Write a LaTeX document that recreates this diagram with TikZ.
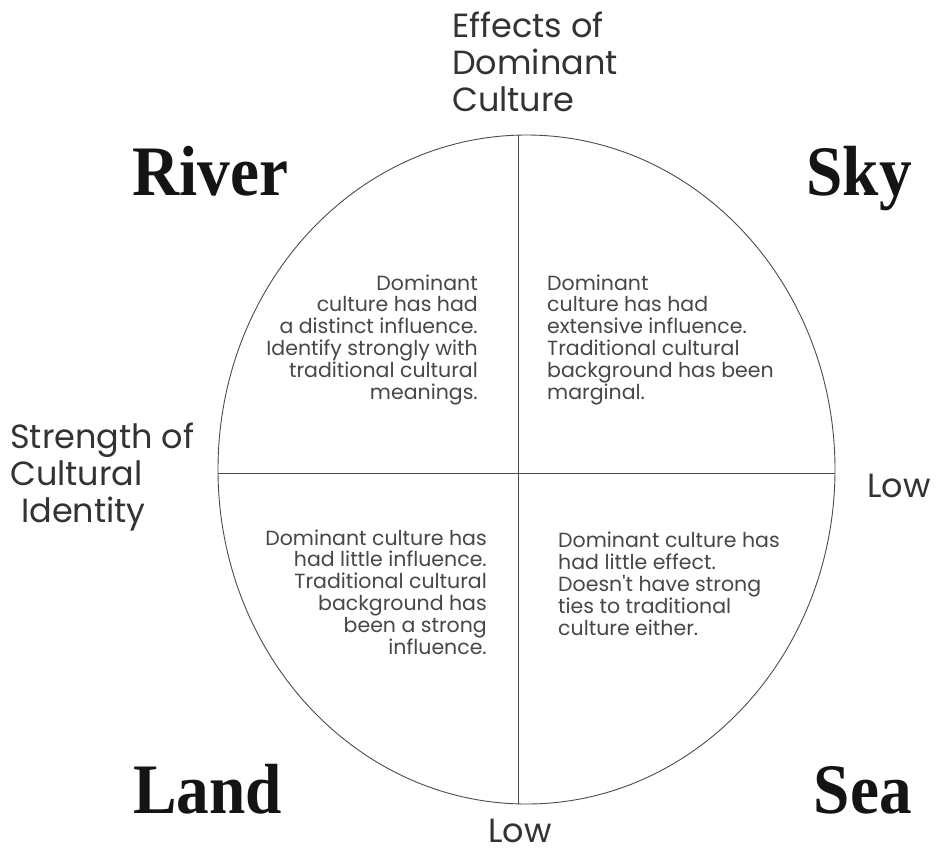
\documentclass[tikz,border=0pt]{standalone}
\usepackage{fontspec}
\newfontfamily\labelfont{Poppins}
\newfontfamily\headfont{Liberation Serif}
\begin{document}
\begin{tikzpicture}[x=1pt,y=-1pt,
  axislabel/.style={font=\labelfont\fontsize{33.5}{37}\selectfont, inner sep=0pt, text=black!80},
  quadtext/.style={font=\labelfont\fontsize{20.5}{21.8}\selectfont, inner sep=0pt, text=black!72},
  headword/.style={font=\headfont\bfseries\fontsize{71}{71}\selectfont, inner sep=0pt, text=black!92},
  frame/.style={draw=black!70, line width=0.9pt}]
\useasboundingbox (0,0) rectangle (937,852);
\fill[white] (0,0) rectangle (937,852);

% the circle split into four quadrants
\coordinate (c) at (526.5,469.5);
\draw[frame] (c) ellipse [x radius=308.5, y radius=334.5];
\coordinate (top) at (518,135.1);
\coordinate (bot) at (518,803.9);
\coordinate (lft) at (218.1,473);
\coordinate (rgt) at (834.9,473);
\draw[frame] (top) -- (bot);
\draw[frame] (lft) -- (rgt);

% axis labels (multi-line nodes sit on their last baseline)
\node[axislabel, anchor=base west, align=left] (vaxis) at (452,111)
  {Effects of\\Dominant\\Culture};
\node[axislabel, anchor=base west, align=left] (haxis) at (10,522)
  {Strength of\\Cultural\\\hspace*{11pt}Identity};
\node[axislabel, anchor=base west] (lowright) at (867,497) {Low};
\node[axislabel, anchor=base west, text depth=0pt] (lowbottom) at (488,842) {Low};

% quadrant names
\node[headword, anchor=base west] (river) at (132,195) {\scalebox{0.92}[1]{River}};
\node[headword, anchor=base east] (sky) at (912,195) {\scalebox{0.92}[1]{Sky}};
\node[headword, anchor=base west] (land) at (133,813) {\scalebox{0.92}[1]{Land}};
\node[headword, anchor=base east] (sea) at (912,813) {\scalebox{0.92}[1]{Sea}};

% quadrant descriptions
\node[quadtext, anchor=base east, align=right] (ultext) at (478,399)
  {Dominant\\culture has had\\a distinct influence.\\Identify strongly with\\traditional cultural\\meanings.};
\node[quadtext, anchor=base west, align=left] (urtext) at (547,399)
  {Dominant\\culture has had\\extensive influence.\\Traditional cultural\\background has been\\marginal.};
\node[quadtext, anchor=base east, align=right] (lltext) at (487,654)
  {Dominant culture has\\had little influence.\\Traditional cultural\\background has\\been a strong\\influence.};
\node[quadtext, anchor=base west, align=left] (lrtext) at (558,635)
  {Dominant culture has\\had little effect.\\Doesn't have strong\\ties to traditional\\culture either.};
\end{tikzpicture}
\end{document}
